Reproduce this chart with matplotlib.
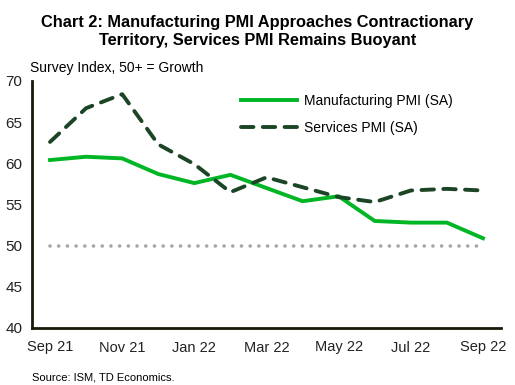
import matplotlib.pyplot as plt
import numpy as np

plt.rcParams['font.family'] = ['Liberation Sans', 'DejaVu Sans']

months = ["Sep 21", "Oct 21", "Nov 21", "Dec 21", "Jan 22", "Feb 22", "Mar 22",
          "Apr 22", "May 22", "Jun 22", "Jul 22", "Aug 22", "Sep 22"]
manufacturing = [60.4, 60.8, 60.6, 58.7, 57.6, 58.6, 57.0, 55.4, 56.0, 53.0, 52.8, 52.8, 50.9]
services = [62.6, 66.7, 68.4, 62.3, 59.9, 56.5, 58.3, 57.1, 55.9, 55.3, 56.7, 56.9, 56.7]
threshold = 50

x = np.arange(len(months))

fig = plt.figure(figsize=(5.15, 3.85), dpi=100)
ax = fig.add_axes([32/515, 1 - 328/385, 469/515, (328 - 81)/385])

ax.plot(x, [threshold] * len(x), color="#a6a6a6", linestyle=(0, (0.01, 2.4)),
        linewidth=2.6, dash_capstyle="round")
ax.plot(x, manufacturing, color="#00b624", linewidth=2.8, label="Manufacturing PMI (SA)")
ax.plot(x, services, color="#1c4526", linewidth=2.8, linestyle=(0, (3.2, 2.4)),
        dash_capstyle="round", label="Services PMI (SA)")

ax.set_xlim(-0.5, 12.5)
ax.set_ylim(40, 70)
ax.set_yticks(np.arange(40, 71, 5))
ax.set_xticks(x[::2])
ax.set_xticklabels(months[::2])
ax.tick_params(length=0, labelsize=10.5, pad=9, colors="#222222")
ax.tick_params(axis="y", labelsize=11, pad=7)
for s in ["top", "right"]:
    ax.spines[s].set_visible(False)
for s in ["left", "bottom"]:
    ax.spines[s].set_linewidth(2)
    ax.spines[s].set_color("#1a1a0a")

legend = ax.legend(loc="upper left", bbox_to_anchor=(0.42, 1.0), frameon=False,
                   fontsize=10, handlelength=4.0, handletextpad=0.5, labelspacing=0.95)

fig.text(0.5, 0.96, "Chart 2: Manufacturing PMI Approaches Contractionary\nTerritory, Services PMI Remains Buoyant",
         ha="center", va="top", fontsize=11.8, fontweight="bold", linespacing=1.22)
fig.text(30/515, 1 - 68/385, "Survey Index, 50+ = Growth", ha="left", va="center", fontsize=10)
fig.text(32/515, 1 - 377/385, "Source: ISM, TD Economics.", ha="left", va="center", fontsize=8)

plt.savefig("out.png", dpi=100)
